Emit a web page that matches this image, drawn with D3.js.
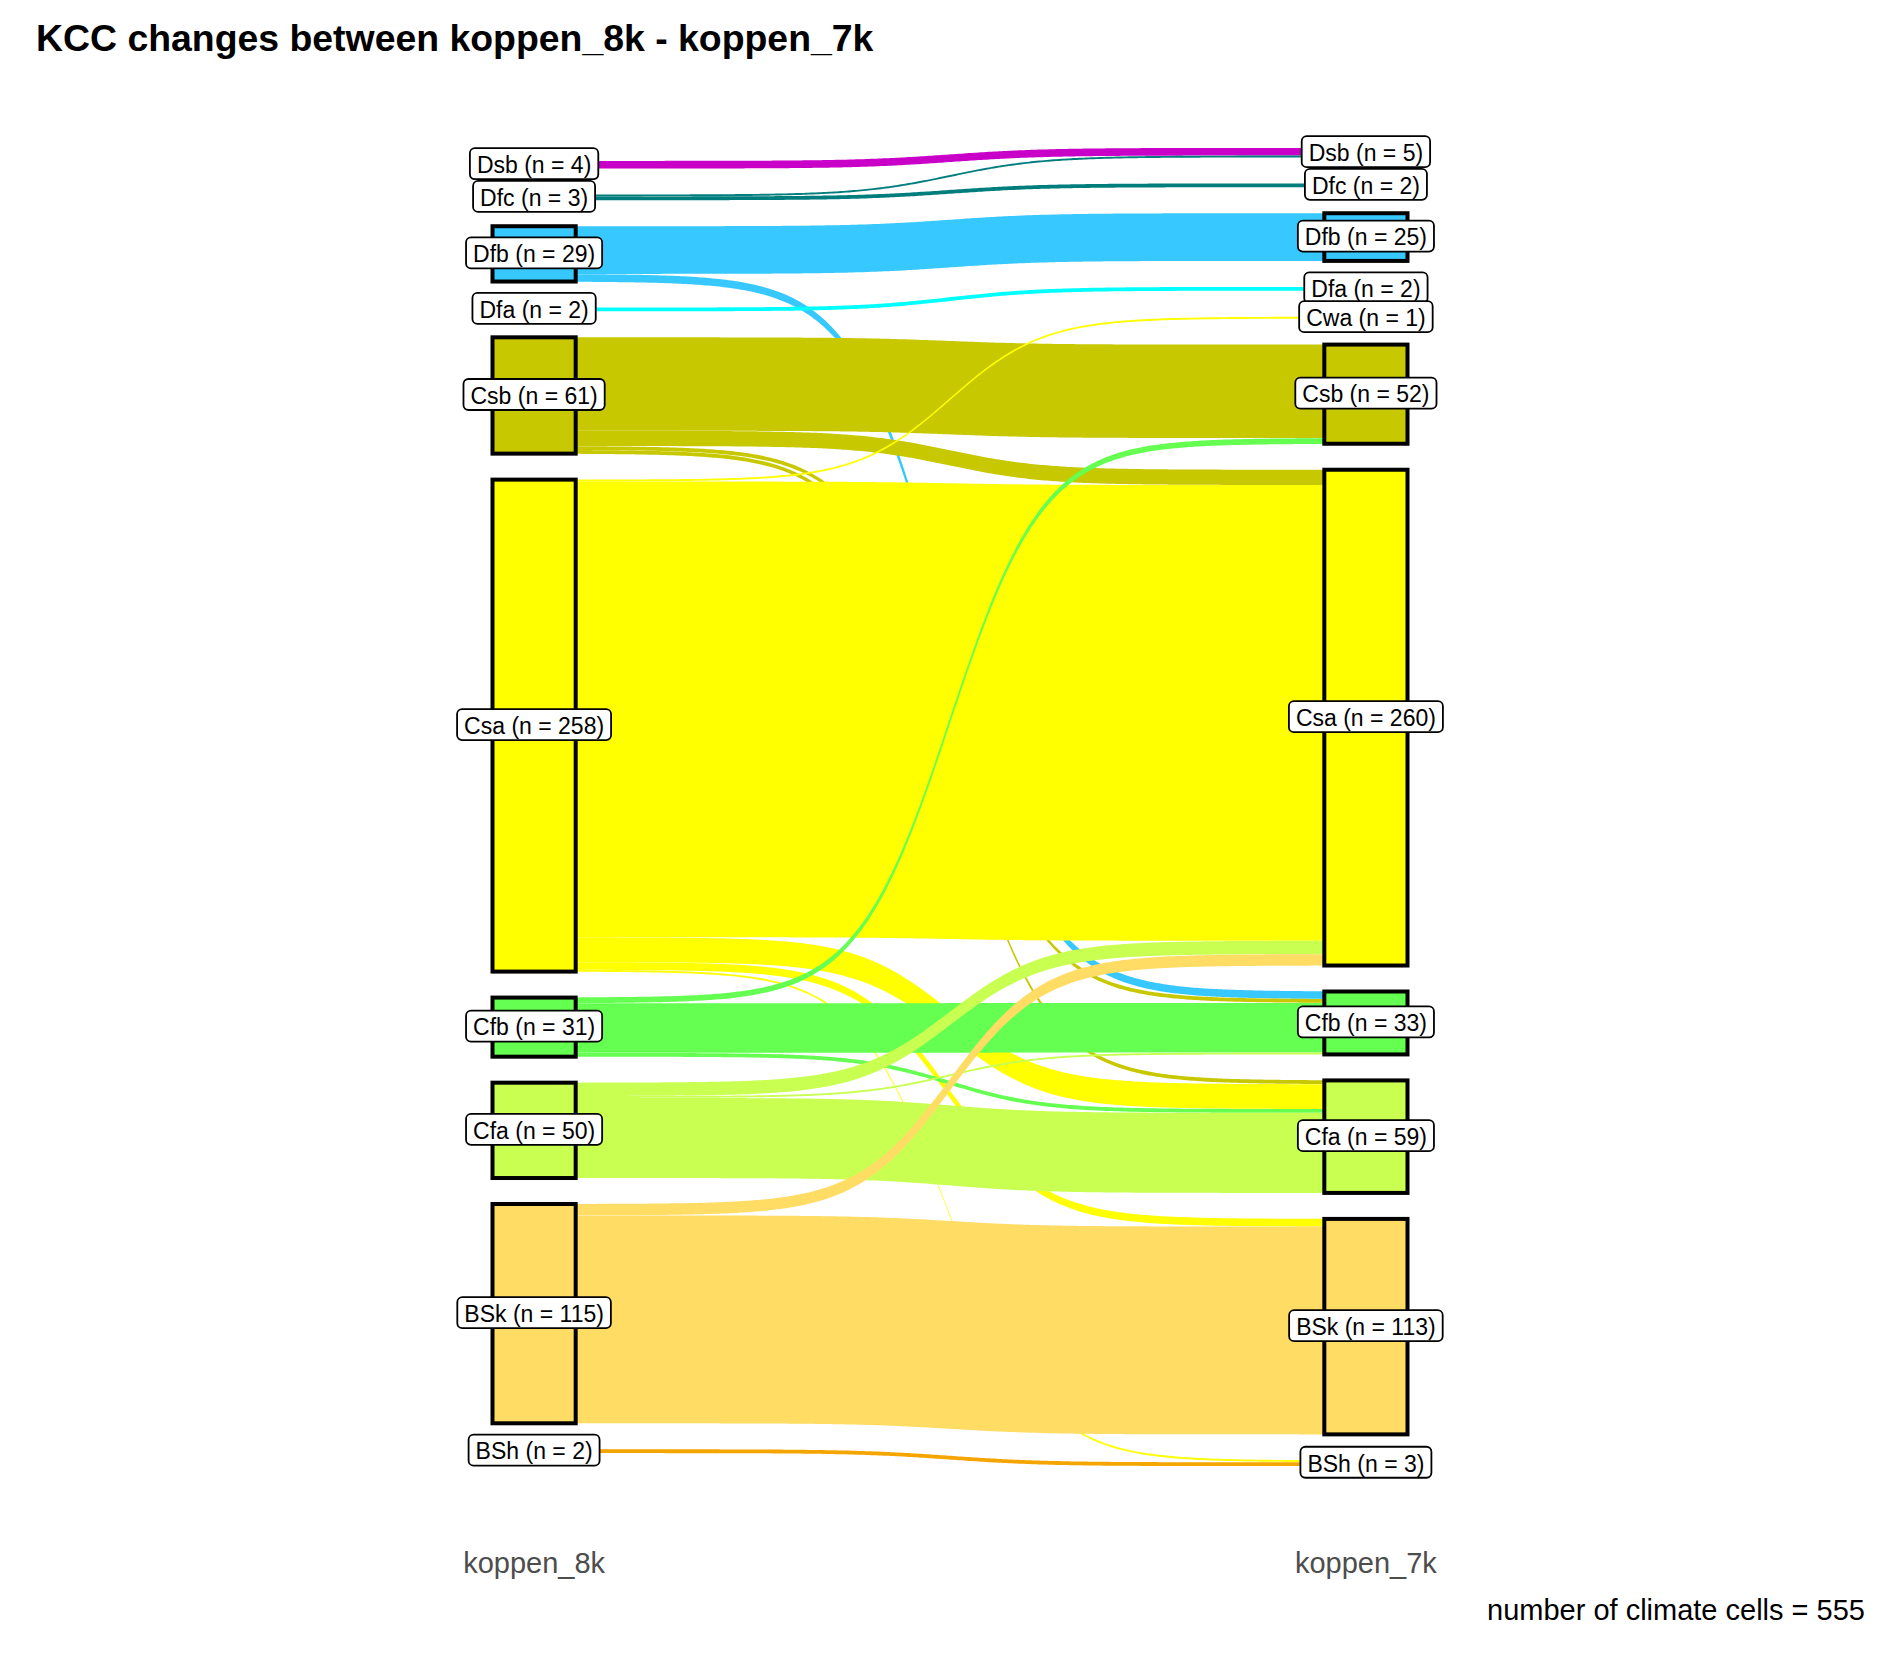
<!DOCTYPE html>
<html><head><meta charset="utf-8">
<script src="https://cdn.jsdelivr.net/npm/d3@7/dist/d3.min.js"></script>
<style>
body{margin:0;background:#fff}
svg{display:block}
text{font-family:"Liberation Sans",Arial,Helvetica,sans-serif}
</style>
</head><body>
<script>
// ---------------- data ----------------
const levels = ["Dsb","Dfc","Dfb","Dfa","Cwa","Csb","Csa","Cfb","Cfa","BSk","BSh"]; // top -> bottom
const axisNames = ["koppen_8k","koppen_7k"];
const flowFrom  = ["Dsb","Dfc","Dfc","Dfb","Dfb","Dfa","Csb","Csb","Csb","Csb","Csa","Csa","Csa","Csa","Csa","Cfb","Cfb","Cfb","Cfa","Cfa","Cfa","BSk","BSk","BSh"];
const flowTo    = ["Dsb","Dsb","Dfc","Dfb","Cfb","Dfa","Csb","Csa","Cfb","Cfa","Cwa","Csa","Cfa","BSk","BSh","Csb","Cfb","Cfa","Csa","Cfb","Cfa","Csa","BSk","BSh"];
const flowCount = [4,1,2,25,4,2,49,8,2,2,1,239,13,4,1,3,26,2,7,1,42,6,109,2];
const titleText = "KCC changes between koppen_8k - koppen_7k";
const captionText = "number of climate cells = 555";

// ---------------- styles ----------------
const palette = {
  Dsb:"#C800C8", Dfc:"#007D7D", Dfb:"#37C8FF", Dfa:"#00FFFF", Cwa:"#96FF96",
  Csb:"#C8C800", Csa:"#FFFF00", Cfb:"#64FF50", Cfa:"#C8FF50", BSk:"#FFDC64", BSh:"#F5A500"
};
const SPACE = 13.63;      // gap between nodes, in count units
const NODE_W = 0.1;       // node width in x units
const SMOOTH = 8;

const W = 1889, H = 1653;
const svg = d3.select("body").append("svg").attr("width", W).attr("height", H);
svg.append("rect").attr("width", W).attr("height", H).attr("fill", "#fff");

const flows = flowFrom.map((f, i) => ({from: f, to: flowTo[i], n: flowCount[i]}));
const lvl = d => levels.indexOf(d);

// build columns
function buildColumn(key) {
  const tot = d3.rollup(flows, v => d3.sum(v, d => d.n), d => d[key]);
  const nodes = levels.filter(l => tot.has(l)).map(l => ({name: l, n: tot.get(l)}));
  const total = d3.sum(nodes, d => d.n) + (nodes.length - 1) * SPACE;
  let top = total / 2;
  nodes.forEach(nd => { nd.y1 = top; nd.y0 = top - nd.n; top = nd.y0 - SPACE; });
  return {nodes, total};
}
const cols = [buildColumn("from"), buildColumn("to")];
const maxHalf = d3.max(cols, c => c.total / 2);

const x = d3.scaleLinear().domain([0.4, 2.6]).range([35, 1865]);
const y = d3.scaleLinear().domain([-1.1 * maxHalf, 1.1 * maxHalf]).range([1532, 82]);

// flow stacking
cols.forEach((c, ci) => {
  c.nodes.forEach(nd => {
    const list = flows.filter(f => (ci === 0 ? f.from : f.to) === nd.name)
      .sort((a, b) => ci === 0 ? lvl(a.to) - lvl(b.to) : lvl(a.from) - lvl(b.from));
    let cur = nd.y1;
    list.forEach(f => {
      if (ci === 0) { f.sy1 = cur; f.sy0 = cur - f.n; } else { f.ty1 = cur; f.ty0 = cur - f.n; }
      cur -= f.n;
    });
  });
});

function sig(x0, x1, ya, yb, npts) {
  const pts = [];
  for (let i = 0; i < npts; i++) {
    const s = -SMOOTH + 2 * SMOOTH * i / (npts - 1);
    const v = Math.exp(s) / (Math.exp(s) + 1);
    pts.push([(s + SMOOTH) / (2 * SMOOTH) * (x1 - x0) + x0, v * (yb - ya) + ya]);
  }
  return pts;
}
const line = d3.line().x(d => x(d[0])).y(d => y(d[1]));

const fx0 = 1 + NODE_W / 2, fx1 = 2 - NODE_W / 2;
const ordered = flows.slice().sort((a, b) => lvl(a.from) - lvl(b.from) || lvl(a.to) - lvl(b.to));
const gFlows = svg.append("g");
ordered.forEach(f => {
  const topEdge = sig(fx0, fx1, f.sy1, f.ty1, 300);
  const botEdge = sig(fx0, fx1, f.sy0, f.ty0, 300).reverse();
  gFlows.append("path")
    .attr("d", line(topEdge.concat(botEdge)) + "Z")
    .attr("fill", palette[f.from])
    .attr("stroke", "none");
});

// nodes
const gNodes = svg.append("g");
cols.forEach((c, ci) => {
  c.nodes.forEach(nd => {
    gNodes.append("rect")
      .attr("x", x(ci + 1 - NODE_W / 2))
      .attr("width", x(ci + 1 + NODE_W / 2) - x(ci + 1 - NODE_W / 2))
      .attr("y", y(nd.y1))
      .attr("height", y(nd.y0) - y(nd.y1))
      .attr("fill", palette[nd.name])
      .attr("stroke", "#000")
      .attr("stroke-width", 4);
  });
});

// labels
const gLab = svg.append("g");
cols.forEach((c, ci) => {
  c.nodes.forEach(nd => {
    const g = gLab.append("g")
      .attr("transform", `translate(${x(ci + 1)},${y((nd.y0 + nd.y1) / 2)})`);
    const r = g.append("rect");
    const t = g.append("text")
      .attr("text-anchor", "middle")
      .attr("dy", "0.36em")
      .attr("font-size", 23)
      .attr("fill", "#000")
      .text(`${nd.name} (n = ${nd.n})`);
    const w = t.node().getComputedTextLength() + 14;
    const h = 31;
    r.attr("x", -w / 2).attr("y", -h / 2 - 1).attr("width", w).attr("height", h)
      .attr("rx", 5).attr("ry", 5)
      .attr("fill", "#fff").attr("stroke", "#000").attr("stroke-width", 1.8);
  });
});

// axis labels
svg.append("g").selectAll("text").data(axisNames).join("text")
  .attr("x", (d, i) => x(i + 1))
  .attr("y", 1573)
  .attr("text-anchor", "middle")
  .attr("font-size", 29)
  .attr("fill", "#4D4D4D")
  .text(d => d);

// title
svg.append("text").attr("x", 36).attr("y", 51)
  .attr("font-size", 37.4).attr("font-weight", "bold").attr("fill", "#000")
  .text(titleText);

// caption
svg.append("text").attr("x", 1865).attr("y", 1620)
  .attr("text-anchor", "end").attr("font-size", 29).attr("fill", "#000")
  .text(captionText);
</script>
</body></html>
